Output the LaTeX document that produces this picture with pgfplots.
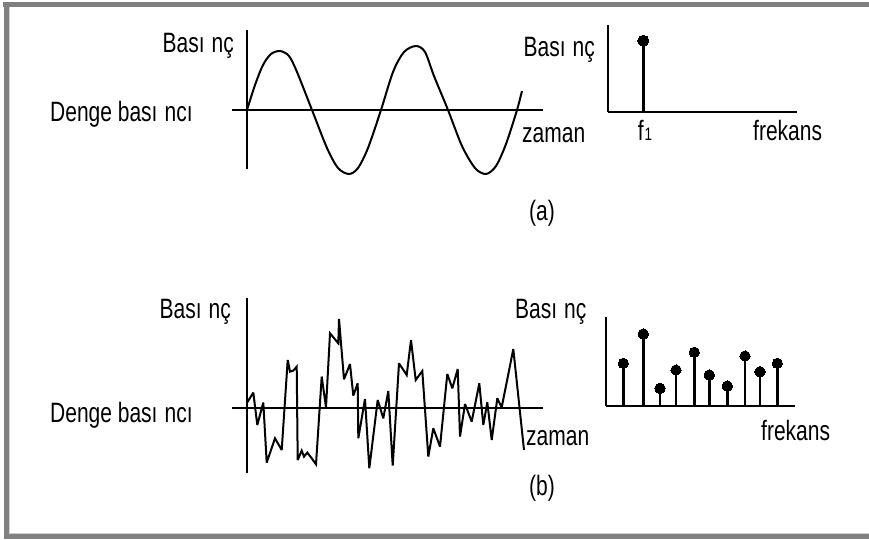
\documentclass[border=0pt]{standalone}
\usepackage{fontspec}
\setmainfont{Liberation Sans}[FakeStretch=0.75]
\usepackage{pgfplots}
\pgfplotsset{compat=1.18}
\definecolor{framegray}{RGB}{128,128,128}
\definecolor{framelight}{RGB}{205,205,205}
\newcommand{\gap}{\kern7pt}
\pgfplotsset{
  panel/.style={
    x=1pt, y=1pt,
    axis lines=middle,
    xtick=\empty, ytick=\empty,
    axis line style={-, line width=2pt, black},
    every inner x axis line/.append style={-},
    every inner y axis line/.append style={-},
    clip=false,
    anchor=origin,
  }
}
\begin{document}
\begin{tikzpicture}[font=\fontsize{28}{32}\selectfont, every node/.style={inner sep=0pt}]
% background and frame
\fill[white] (0pt,0pt) rectangle (869pt,-539pt);
\fill[framegray] (3pt,-1.5pt) rectangle (869pt,-6.5pt);
\fill[framegray] (3.5pt,-1.5pt) rectangle (9pt,-539pt);
\fill[framegray] (3.5pt,-534.3pt) rectangle (869pt,-539pt);
\fill[framelight] (9pt,-6.5pt) rectangle (10pt,-534.3pt);
\fill[framelight] (9pt,-533.3pt) rectangle (869pt,-534.3pt);

% (a) time signal: pure tone
\begin{axis}[panel, at={(247pt,-110pt)}, xmin=-15, xmax=296, ymin=-59, ymax=80]
\addplot[line width=2pt, smooth, black] coordinates {
(0,0) (8,25) (16,45) (24,56) (33,59) (42,54) (50,38) (65,0) (80,-38) (91,-58) (102,-64)
(111,-58) (121,-38) (134,0) (146,38) (157,58) (169,64) (178,58) (187,34) (201,0)
(215,-36) (228,-58) (239,-64) (249,-56) (259,-34) (270,0) (275,19)};
\end{axis}

% (a) spectrum: single line
\begin{axis}[panel, at={(607.7pt,-112.3pt)}, xmin=0, xmax=189, ymin=0, ymax=87]
\addplot[ycomb, line width=3pt, black, mark=*, mark size=5.5pt, mark options={fill=black, line width=0pt}] coordinates {(35.6,71.6)};
\end{axis}

% (b) time signal: noise
\begin{axis}[panel, at={(247.3pt,-408.3pt)}, xmin=-15.6, xmax=296, ymin=-65, ymax=110]
\addplot[line width=2pt, black, line join=miter, miter limit=3] coordinates {
(-0.6,5) (6,15.7) (10,-16.7) (16,5.7) (19.4,-54.3) (27.7,-30) (34.4,-41.7) (40.4,48.3)
(42.7,36.7) (46,37.7) (49.4,41.7) (50.4,-51.7) (54.4,-42.3) (56.7,-48.3) (60,-44.3)
(64.4,-50) (68.7,-56) (74.4,31.7) (78.7,1) (82.7,75) (91,65) (91.7,89.3) (96.7,29)
(102.7,44.3) (106,12.7) (110.4,25) (111,-30) (117.7,9.3) (122,-60) (130.4,8.3)
(136,-10) (141,17.3) (145.4,-57.3) (151.7,45) (159.4,33.3) (163.7,68.3) (168.4,28.3)
(175,37.3) (181,-48.3) (186,-20) (192.7,-38.3) (200,34.3) (205,20) (210.4,39.3)
(212.7,-28.3) (217.7,4.3) (224.4,-13.3) (232,25) (236,-16.7) (240,6) (244.4,-31.7)
(250,10) (254.4,1) (266,59.3) (276.7,-41.7)};
\end{axis}

% (b) spectrum: many lines
\begin{axis}[panel, at={(605.7pt,-406pt)}, xmin=0, xmax=189.3, ymin=0, ymax=88.7]
\addplot[ycomb, line width=2.5pt, black, mark=*, mark size=5.2pt, mark options={fill=black, line width=0pt}] coordinates {
(17.6,42.7) (37.6,72) (54.3,17.7) (70.3,36) (88.6,53.7) (103.6,31) (121.6,20)
(139.3,50) (154.3,34.3) (171.6,42.7)};
\end{axis}

% labels, panel (a)
\node[anchor=base east] at (234pt,-52.5pt) {Bası\gap nç};
\node[anchor=base west] at (50pt,-121pt) {Denge bası\gap ncı};
\node[anchor=base west] at (522pt,-142pt) {zaman};
\node[anchor=base east] at (595pt,-56.7pt) {Bası\gap nç};
\node[anchor=base] at (645pt,-140pt) {f\kern1pt{\fontsize{18}{20}\selectfont 1}};
\node[anchor=base west] at (753pt,-140pt) {frekans};
\node[anchor=center] at (542pt,-213pt) {(a)};

% labels, panel (b)
\node[anchor=base east] at (231pt,-318.3pt) {Bası\gap nç};
\node[anchor=base west] at (50pt,-422pt) {Denge bası\gap ncı};
\node[anchor=base west] at (526pt,-445pt) {zaman};
\node[anchor=base west] at (515pt,-318.3pt) {Bası\gap nç};
\node[anchor=base west] at (761pt,-440pt) {frekans};
\node[anchor=center] at (542pt,-488pt) {(b)};

\pgfresetboundingbox
\path[use as bounding box] (0pt,0pt) rectangle (869pt,-539pt);
\end{tikzpicture}
\end{document}
